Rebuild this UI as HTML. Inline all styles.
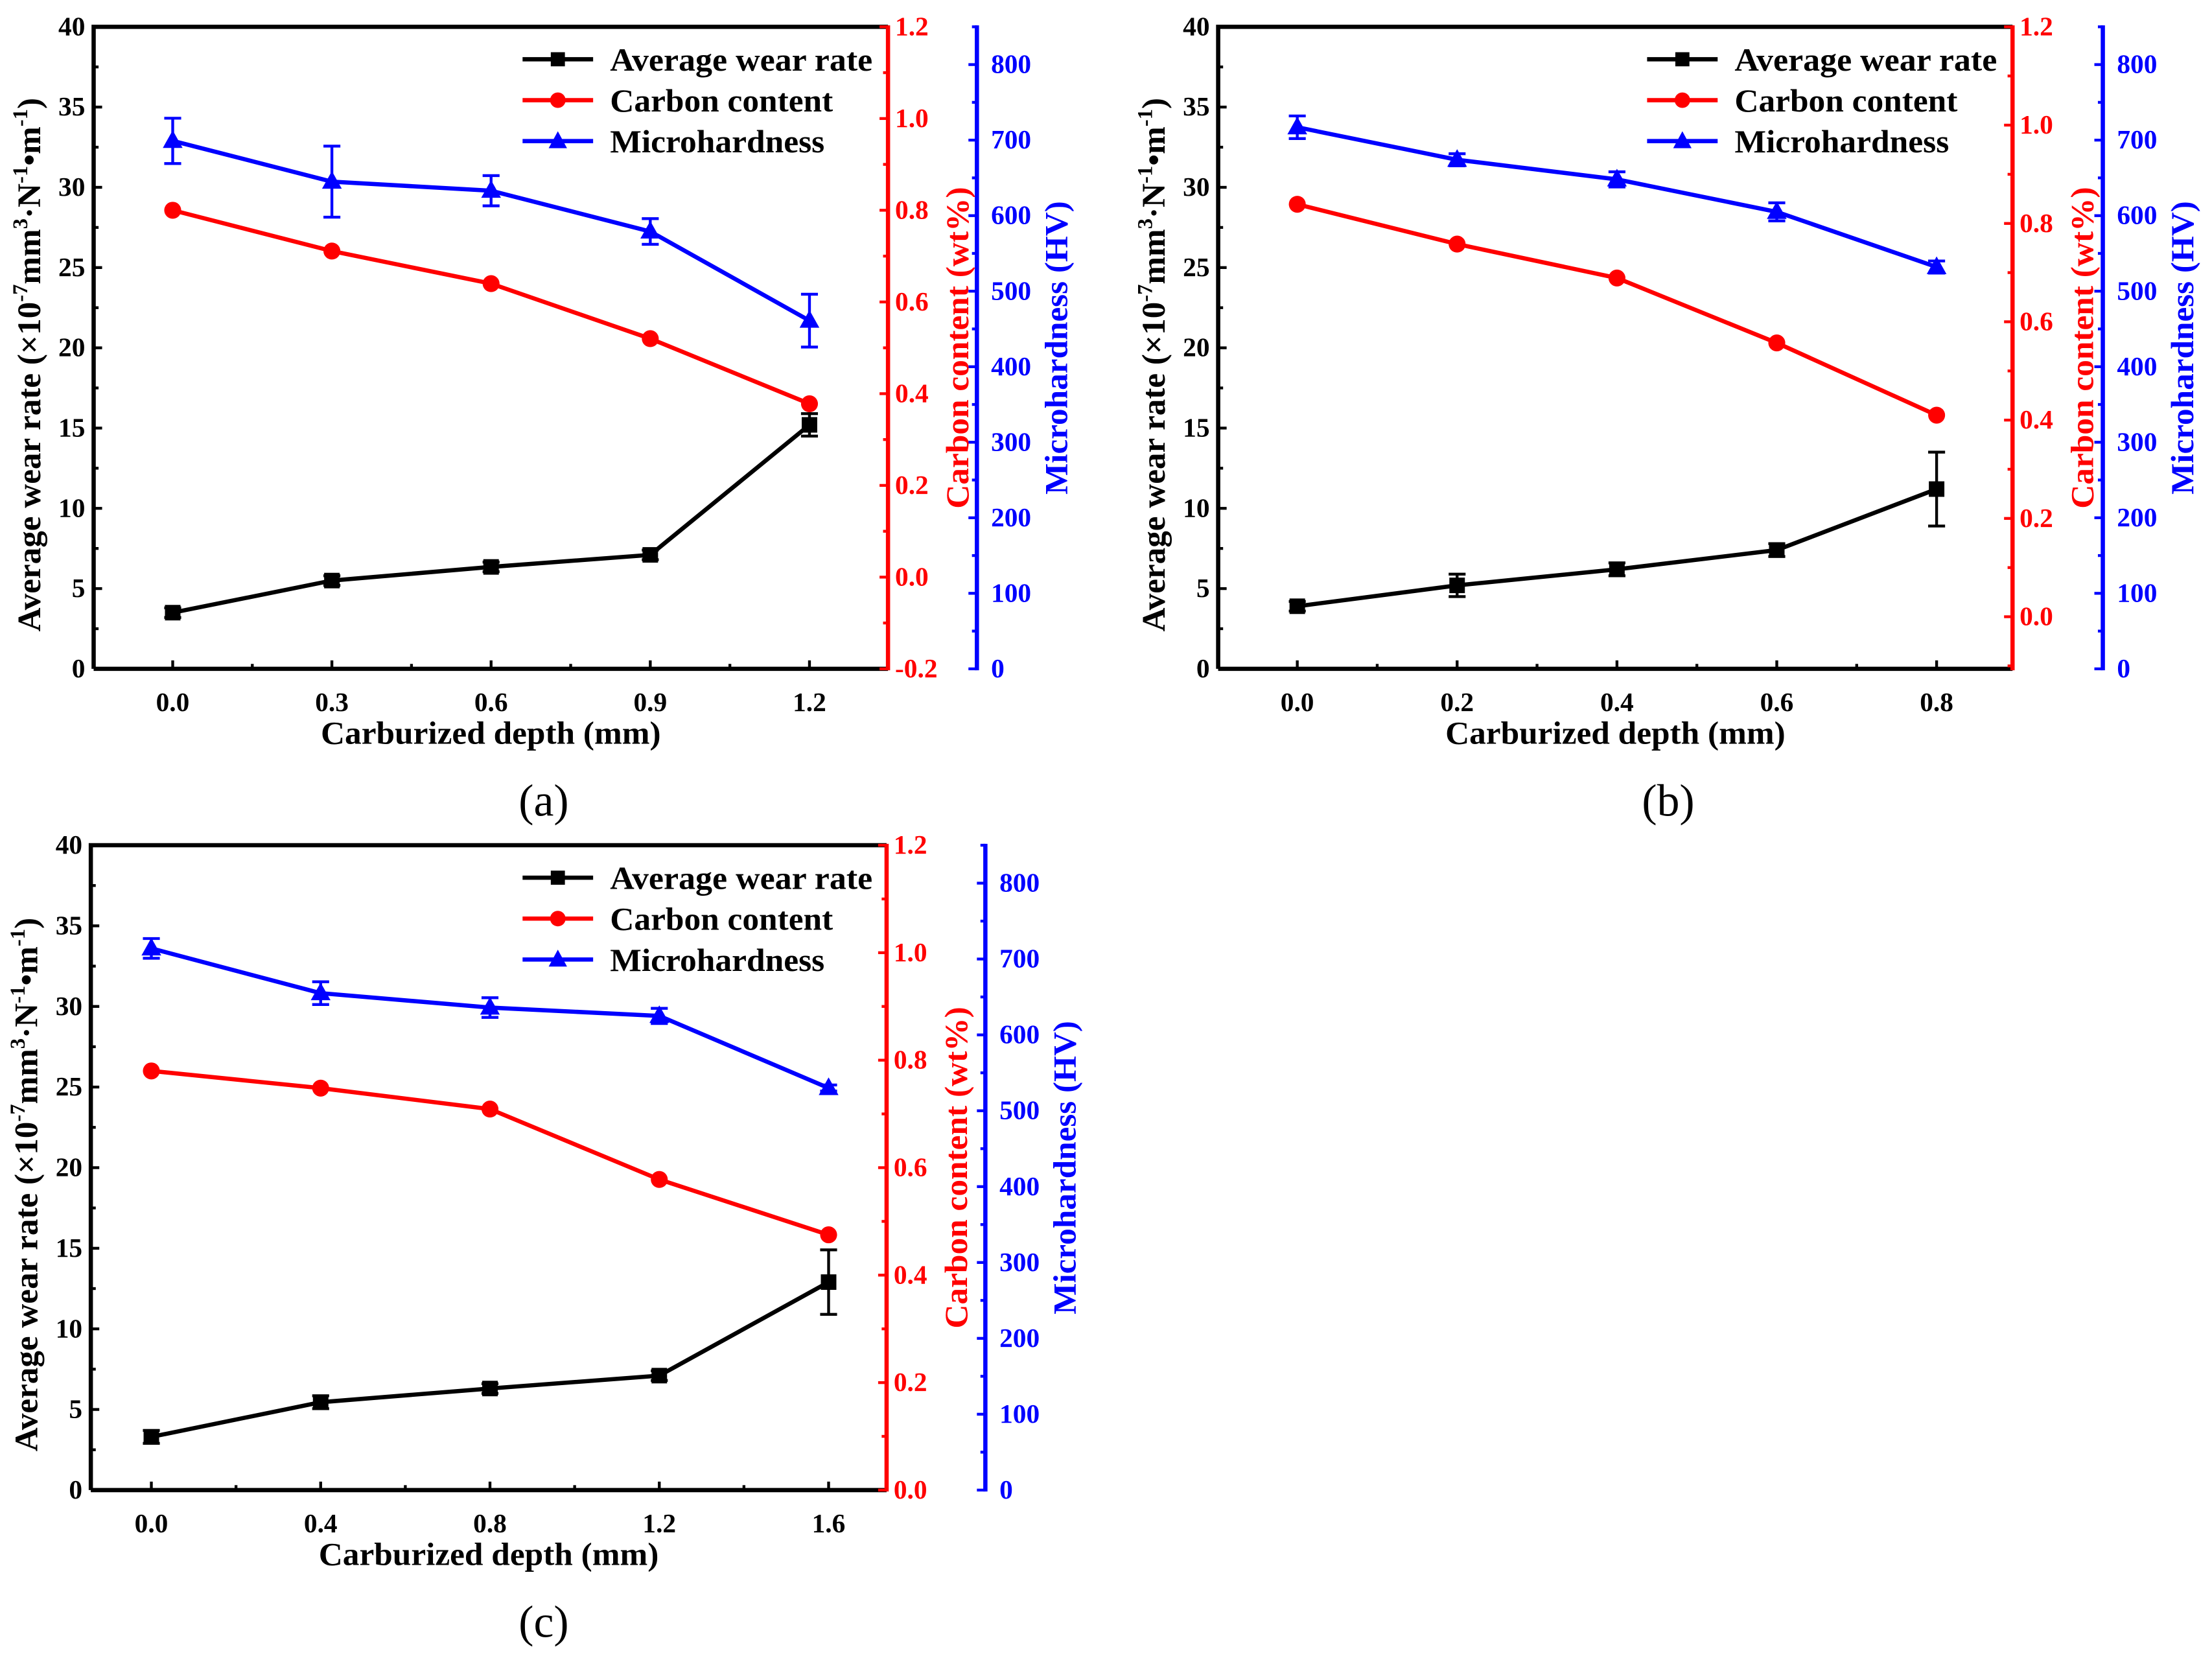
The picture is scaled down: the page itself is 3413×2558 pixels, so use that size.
<!DOCTYPE html>
<html><head><meta charset="utf-8"><style>
html,body{margin:0;padding:0;background:#fff}
svg{display:block}
text{font-family:"Liberation Serif",serif;}
</style></head><body>
<svg id="fig" width="3413" height="2558" viewBox="0 0 1567 1175" xmlns="http://www.w3.org/2000/svg"></svg>
<script>
// Panel (a)
const depthA = [0.0, 0.3, 0.6, 0.9, 1.2];
const wearA = [3.5, 5.5, 6.35, 7.1, 15.2];
const wearErrA = [0.3, 0.3, 0.3, 0.3, 0.7];
const carbonA = [0.80, 0.711, 0.64, 0.52, 0.378];
const hardA = [699, 645, 633, 579, 461];
const hardErrA = [30, 47, 20, 17, 35];
const xTicksA = ["0.0","0.3","0.6","0.9","1.2"];
const redTicksA = ["-0.2","0.0","0.2","0.4","0.6","0.8","1.0","1.2"];
// Panel (b)
const depthB = [0.0, 0.2, 0.4, 0.6, 0.8];
const wearB = [3.9, 5.2, 6.2, 7.4, 11.2];
const wearErrB = [0.3, 0.7, 0.4, 0.4, 2.3];
const carbonB = [0.839, 0.758, 0.689, 0.557, 0.410];
const hardB = [717, 674, 648, 605, 532];
const hardErrB = [15, 8, 10, 12, 8];
const xTicksB = ["0.0","0.2","0.4","0.6","0.8"];
const redTicksB = ["0.0","0.2","0.4","0.6","0.8","1.0","1.2"];
// Panel (c)
const depthC = [0.0, 0.4, 0.8, 1.2, 1.6];
const wearC = [3.3, 5.45, 6.3, 7.1, 12.9];
const wearErrC = [0.4, 0.4, 0.3, 0.3, 2.0];
const carbonC = [0.78, 0.748, 0.709, 0.578, 0.475];
const hardC = [714, 655, 636, 625, 530];
const hardErrC = [13, 15, 13, 10, 4];
const xTicksC = ["0.0","0.4","0.8","1.2","1.6"];
const redTicksC = ["0.0","0.2","0.4","0.6","0.8","1.0","1.2"];
const leftTicks = ["0","5","10","15","20","25","30","35","40"];
const blueTicks = ["0","100","200","300","400","500","600","700","800"];

const NS="http://www.w3.org/2000/svg";
const svg=document.getElementById('fig');
function mk(tag,attrs,parent){const e=document.createElementNS(NS,tag);for(const k in attrs)e.setAttribute(k,attrs[k]);(parent||svg).appendChild(e);return e;}

function panel(p){
  const g=mk('g',{});
  
  
  const L=p.left,R=p.right,T=p.top,B=p.bottom,BX=p.blueX;
  const X=v=>L+(v-p.xmin)/(p.xmax-p.xmin)*(R-L);
  const Y=v=>B-(v-0)/40*(B-T);
  const YR=v=>B-(v-p.rmin)/(1.2-p.rmin)*(B-T);
  const YB=v=>B-v/850*(B-T);
  let e=mk('path',{d:`M${L} ${B}L${L} ${T}L${R} ${T}`,fill:'none',stroke:'#000','stroke-width':3},g);
  
  e=mk('line',{x1:L,y1:B,x2:R,y2:B,stroke:'#000','stroke-width':3},g);
  
  e=mk('line',{x1:R,y1:T-1,x2:R,y2:B+1,stroke:'#f00','stroke-width':3},g);
  
  e=mk('line',{x1:BX,y1:T-1,x2:BX,y2:B+1,stroke:'#00f','stroke-width':3},g);
  
  leftTicks.forEach((t,i)=>{const v=+t,y=Y(v);
    mk('line',{x1:L,y1:y,x2:L+6,y2:y,stroke:'#000','stroke-width':2},g);
    if(i<leftTicks.length-1) mk('line',{x1:L,y1:Y(v+2.5),x2:L+3.5,y2:Y(v+2.5),stroke:'#000','stroke-width':2},g);
    const tx=mk('text',{x:L-6,y:y+6,'text-anchor':'end','font-size':19,'font-weight':'bold'},g);tx.textContent=t;
    
  });
  p.xt.forEach((t,i)=>{const v=+t,x=X(v);
    mk('line',{x1:x,y1:B,x2:x,y2:B-6,stroke:'#000','stroke-width':2},g);
    if(i<p.xt.length-1) mk('line',{x1:X(v+p.step/2),y1:B,x2:X(v+p.step/2),y2:B-3.5,stroke:'#000','stroke-width':2},g);
    const tx=mk('text',{x:x,y:B+30,'text-anchor':'middle','font-size':19,'font-weight':'bold'},g);tx.textContent=t;
    
  });
  p.rt.forEach((t,i)=>{const v=+t,y=YR(v);
    mk('line',{x1:R,y1:y,x2:R-6,y2:y,stroke:'#f00','stroke-width':2},g);
    if(i<p.rt.length-1) mk('line',{x1:R,y1:YR(v+0.1),x2:R-3.5,y2:YR(v+0.1),stroke:'#f00','stroke-width':2},g);
    const tx=mk('text',{x:R+5,y:y+6,'font-size':19,'font-weight':'bold',fill:'#f00'},g);tx.textContent=t;
    
  });
  if(p.rmin<-0.05&&p.rt[0]==="0.0") mk('line',{x1:R,y1:YR(-0.1),x2:R-3.5,y2:YR(-0.1),stroke:'#f00','stroke-width':2},g);
  blueTicks.forEach((t,i)=>{const v=+t,y=YB(v);
    mk('line',{x1:BX,y1:y,x2:BX-6,y2:y,stroke:'#00f','stroke-width':2},g);
    mk('line',{x1:BX,y1:YB(v+50),x2:BX-3.5,y2:YB(v+50),stroke:'#00f','stroke-width':2},g);
    const tx=mk('text',{x:BX+10,y:y+6,'font-size':19,'font-weight':'bold',fill:'#00f'},g);tx.textContent=t;
    
  });
  let tx=mk('text',{x:(L+R)/2,y:B+53,'text-anchor':'middle','font-size':23,'font-weight':'bold',textLength:241,lengthAdjust:'spacingAndGlyphs'},g);
  tx.textContent='Carburized depth (mm)';
  const my=(T+B)/2;
  tx=mk('text',{x:0,y:0,'text-anchor':'middle','font-size':23.5,'font-weight':'bold',transform:`translate(${L-38},${my+12}) rotate(-90)`},g);
  tx.innerHTML='Average wear rate (×10<tspan dy="-9" font-size="15">-7</tspan><tspan dy="9">mm</tspan><tspan dy="-9" font-size="15">3</tspan><tspan dy="9">·N</tspan><tspan dy="-9" font-size="15">-1</tspan><tspan dy="9">•m</tspan><tspan dy="-9" font-size="15">-1</tspan><tspan dy="9">)</tspan>';
  
  tx=mk('text',{x:0,y:0,'text-anchor':'middle','font-size':23,'font-weight':'bold',fill:'#f00',textLength:228,lengthAdjust:'spacingAndGlyphs',transform:`translate(${R+57},${my}) rotate(-90)`},g);
  tx.textContent='Carbon content (wt%)';
  tx=mk('text',{x:0,y:0,'text-anchor':'middle','font-size':23,'font-weight':'bold',fill:'#00f',textLength:208,lengthAdjust:'spacingAndGlyphs',transform:`translate(${BX+64},${my}) rotate(-90)`},g);
  tx.textContent='Microhardness (HV)';
  function series(xs,ys,yf,color,name,errs,ef,marker){
    const sg=mk('g',{},g);
    const pl=mk('polyline',{points:xs.map((x,i)=>X(x)+','+yf(ys[i])).join(' '),fill:'none',stroke:color,'stroke-width':3},sg);
    
    xs.forEach((x,i)=>{const cx=X(x),cy=yf(ys[i]);
      if(errs){const y1=ef(ys[i]+errs[i]),y2=ef(ys[i]-errs[i]);
        const eb=mk('path',{d:`M${cx} ${y1}L${cx} ${y2}M${cx-6} ${y1}L${cx+6} ${y1}M${cx-6} ${y2}L${cx+6} ${y2}`,stroke:color,'stroke-width':2,fill:'none'},sg);
        }
      let m;
      if(marker==='sq') m=mk('rect',{x:cx-5.5,y:cy-5.5,width:11,height:11,fill:color},sg);
      else if(marker==='c') m=mk('circle',{cx:cx,cy:cy,r:6,fill:color},sg);
      else m=mk('path',{d:`M${cx} ${cy-7.5}L${cx+7} ${cy+5}L${cx-7} ${cy+5}Z`,fill:color},sg);
      
    });
  }
  series(p.d,p.c,YR,'#f00','carbon',null,null,'c');
  series(p.d,p.h,YB,'#00f','hardness',p.he,YB,'t');
  series(p.d,p.w,Y,'#000','wear',p.we,Y,'sq');
  const lx=p.legX,ly=T+23;
  [['Average wear rate','#000','sq',186],['Carbon content','#f00','c',158],['Microhardness','#00f','t',152]].forEach((it,i)=>{
    const y=ly+i*29;const lg=mk('g',{},g);
    
    mk('line',{x1:lx,y1:y,x2:lx+50,y2:y,stroke:it[1],'stroke-width':3},lg);
    const cx=lx+25;
    if(it[2]==='sq') mk('rect',{x:cx-5,y:y-5,width:10,height:10,fill:it[1]},lg);
    else if(it[2]==='c') mk('circle',{cx:cx,cy:y,r:5.5,fill:it[1]},lg);
    else mk('path',{d:`M${cx} ${y-7}L${cx+6.5} ${y+5}L${cx-6.5} ${y+5}Z`,fill:it[1]},lg);
    const t=mk('text',{x:lx+62,y:y+8,'font-size':23,'font-weight':'bold',textLength:it[3],lengthAdjust:'spacingAndGlyphs'},lg);t.textContent=it[0];
  });
  tx=mk('text',{x:p.capX,y:p.capY,'text-anchor':'middle','font-size':32},g);
  tx.textContent='('+p.id+')';
}
panel({id:'a',left:66,right:629,top:19,bottom:474,blueX:692,xmin:-0.149,xmax:1.348,step:0.3,rmin:-0.2,
  d:depthA,w:wearA,we:wearErrA,c:carbonA,h:hardA,he:hardErrA,xt:xTicksA,rt:redTicksA,legX:370,capX:385,capY:578});
panel({id:'b',left:863,right:1426,top:19,bottom:474,blueX:1490,xmin:-0.099,xmax:0.895,step:0.2,rmin:-0.106,
  d:depthB,w:wearB,we:wearErrB,c:carbonB,h:hardB,he:hardErrB,xt:xTicksB,rt:redTicksB,legX:1167,capX:1182,capY:578});
panel({id:'c',left:64,right:628,top:599,bottom:1056,blueX:698,xmin:-0.143,xmax:1.737,step:0.4,rmin:0,
  d:depthC,w:wearC,we:wearErrC,c:carbonC,h:hardC,he:hardErrC,xt:xTicksC,rt:redTicksC,legX:370,capX:385,capY:1160});
</script>
</body></html>
